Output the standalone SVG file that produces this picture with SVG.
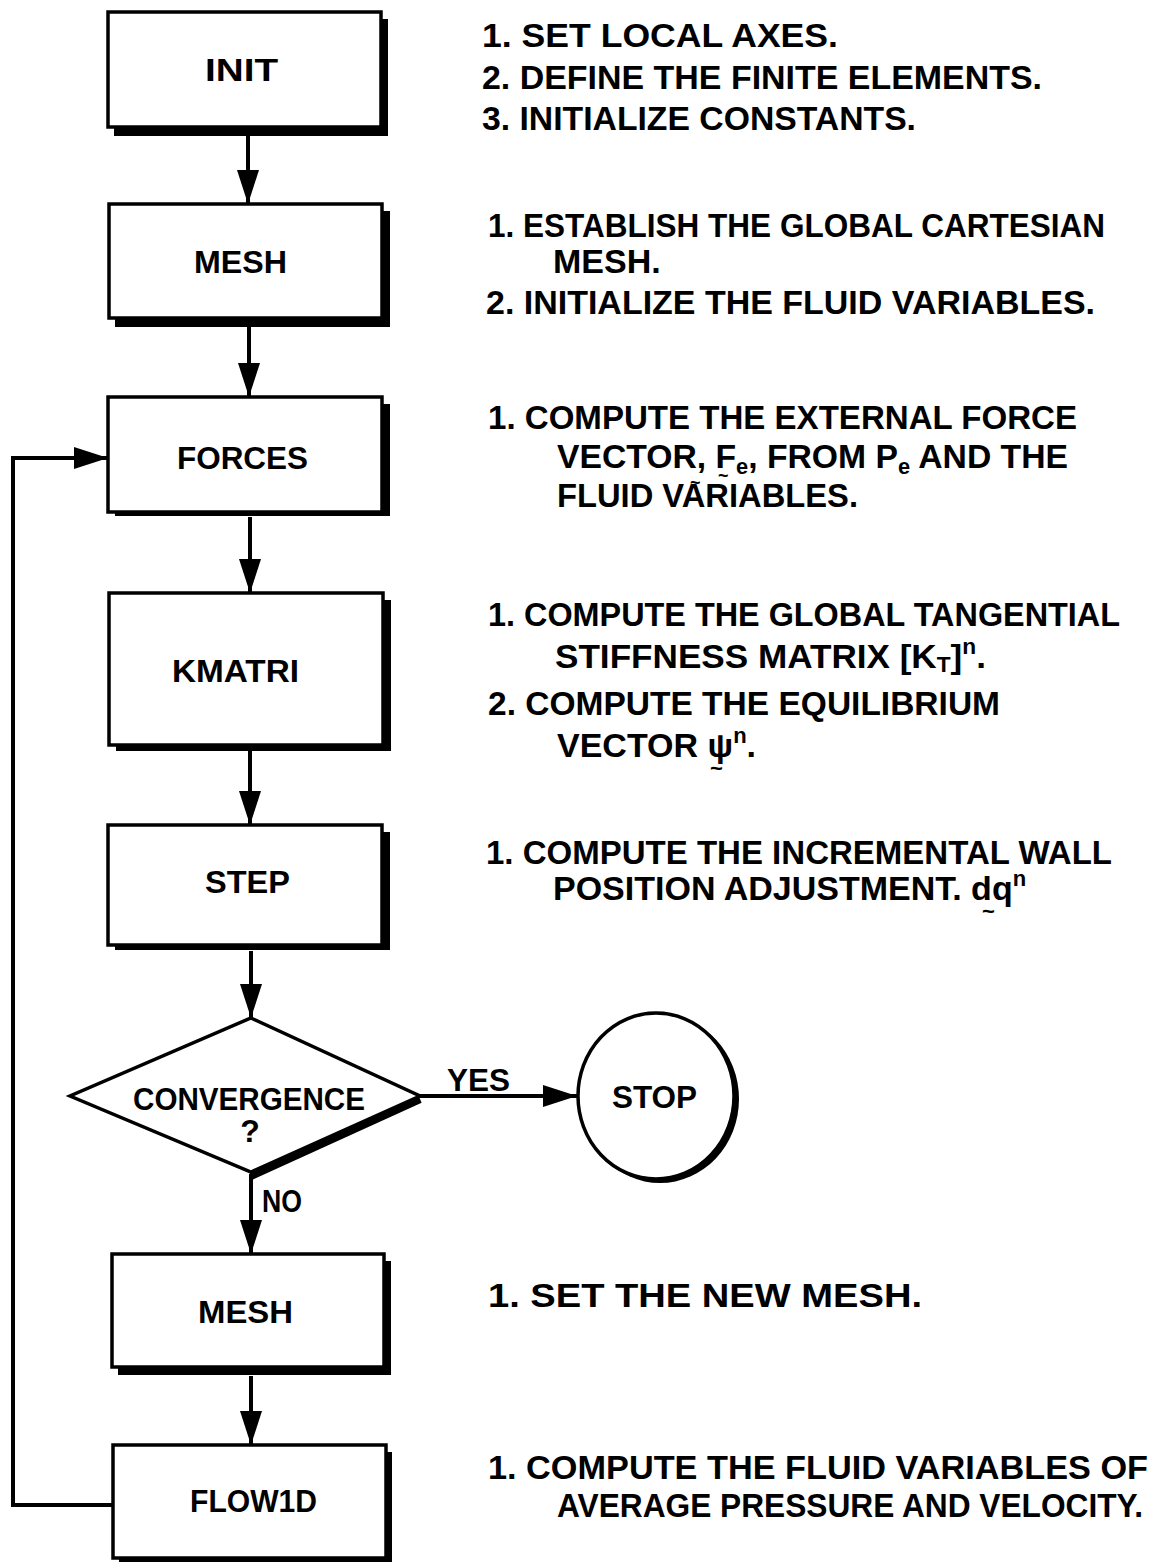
<svg xmlns="http://www.w3.org/2000/svg" width="1157" height="1562" viewBox="0 0 1157 1562">
<style>
.bg{fill:#fff}
.box{fill:#fff;stroke:#000;stroke-width:3.5}
.sh{fill:#000}
.lbl{font-family:"Liberation Sans",Arial,sans-serif;font-weight:bold;font-size:32px;fill:#000}
.desc{font-family:"Liberation Sans",Arial,sans-serif;font-weight:bold;font-size:34px;fill:#000}
.sm{font-family:"Liberation Sans",Arial,sans-serif;font-weight:bold;font-size:22px;fill:#000}
.tl{font-family:"Liberation Sans",Arial,sans-serif;font-weight:bold;font-size:18px;fill:#000}
.conn{stroke:#000;stroke-width:4;fill:none}
</style>
<defs>
<marker id="arr" viewBox="0 0 34 22" refX="34" refY="11" markerWidth="34" markerHeight="22" markerUnits="userSpaceOnUse" orient="auto">
<path d="M0,0 L34,11 L0,22 z" fill="#000"/>
</marker>
</defs>
<rect class="bg" x="0" y="0" width="1157" height="1562"/>

<g id="connectors">
<line class="conn" x1="248" y1="136" x2="248" y2="204" marker-end="url(#arr)"/>
<line class="conn" x1="249" y1="327" x2="249" y2="397" marker-end="url(#arr)"/>
<line class="conn" x1="250" y1="517" x2="250" y2="593" marker-end="url(#arr)"/>
<line class="conn" x1="250" y1="751" x2="250" y2="825" marker-end="url(#arr)"/>
<line class="conn" x1="251" y1="951" x2="251" y2="1018" marker-end="url(#arr)"/>
<line class="conn" x1="420" y1="1096" x2="577" y2="1096" marker-end="url(#arr)"/>
<line class="conn" x1="251" y1="1174" x2="251" y2="1254" marker-end="url(#arr)"/>
<line class="conn" x1="251" y1="1376" x2="251" y2="1445" marker-end="url(#arr)"/>
<polyline class="conn" points="113,1505 13,1505 13,458 108,458" marker-end="url(#arr)"/>
<text class="lbl" x="447" y="1091" textLength="63" lengthAdjust="spacingAndGlyphs">YES</text>
<text class="lbl" x="262" y="1212" textLength="40" lengthAdjust="spacingAndGlyphs">NO</text>
</g>

<g id="init">
<rect class="sh" x="114" y="19" width="274" height="117"/>
<rect class="box" x="108" y="12" width="273" height="115"/>
<text class="lbl" x="205" y="81" textLength="73" lengthAdjust="spacingAndGlyphs">INIT</text>
</g>
<g id="mesh1">
<rect class="sh" x="115" y="211" width="275" height="116"/>
<rect class="box" x="109" y="204" width="273" height="114"/>
<text class="lbl" x="194" y="273" textLength="93" lengthAdjust="spacingAndGlyphs">MESH</text>
</g>
<g id="forces">
<rect class="sh" x="115" y="404" width="275" height="112"/>
<rect class="box" x="108" y="397" width="274" height="115"/>
<text class="lbl" x="177" y="469" textLength="131" lengthAdjust="spacingAndGlyphs">FORCES</text>
</g>
<g id="kmatri">
<rect class="sh" x="116" y="600" width="275" height="151"/>
<rect class="box" x="109" y="593" width="274" height="152"/>
<text class="lbl" x="172" y="682" textLength="127" lengthAdjust="spacingAndGlyphs">KMATRI</text>
</g>
<g id="step">
<rect class="sh" x="115" y="832" width="275" height="118"/>
<rect class="box" x="108" y="825" width="274" height="120"/>
<text class="lbl" x="205" y="893" textLength="85" lengthAdjust="spacingAndGlyphs">STEP</text>
</g>
<g id="convergence">
<line x1="420" y1="1099" x2="251" y2="1176" stroke="#000" stroke-width="8"/>
<polygon points="251,1018 420,1096 251,1172 70,1096" fill="#fff" stroke="#000" stroke-width="3.5" stroke-linejoin="miter"/>
<text class="lbl" x="133" y="1110" textLength="232" lengthAdjust="spacingAndGlyphs">CONVERGENCE</text>
<text class="lbl" x="250" y="1142" text-anchor="middle">?</text>
</g>
<g id="stop">
<ellipse cx="660" cy="1099" rx="79" ry="84" fill="#000"/>
<ellipse cx="656" cy="1096" rx="78" ry="83" fill="#fff" stroke="#000" stroke-width="3.5"/>
<text class="lbl" x="612" y="1108" textLength="85" lengthAdjust="spacingAndGlyphs">STOP</text>
</g>
<g id="mesh2">
<rect class="sh" x="118" y="1261" width="273" height="114"/>
<rect class="box" x="112" y="1254" width="272" height="113"/>
<text class="lbl" x="198" y="1323" textLength="95" lengthAdjust="spacingAndGlyphs">MESH</text>
</g>
<g id="flow1d">
<rect class="sh" x="119" y="1452" width="273" height="112"/>
<rect class="box" x="113" y="1445" width="273" height="113"/>
<text class="lbl" x="190" y="1512" textLength="127" lengthAdjust="spacingAndGlyphs">FLOW1D</text>
</g>

<g id="notes">
<text class="desc" x="482" y="47" textLength="356" lengthAdjust="spacingAndGlyphs">1. SET LOCAL AXES.</text>
<text class="desc" x="482" y="89" textLength="560" lengthAdjust="spacingAndGlyphs">2. DEFINE THE FINITE ELEMENTS.</text>
<text class="desc" x="482" y="130" textLength="434" lengthAdjust="spacingAndGlyphs">3. INITIALIZE CONSTANTS.</text>

<text class="desc" x="488" y="237" textLength="617" lengthAdjust="spacingAndGlyphs">1. ESTABLISH THE GLOBAL CARTESIAN</text>
<text class="desc" x="553" y="273">MESH.</text>
<text class="desc" x="486" y="314" textLength="609" lengthAdjust="spacingAndGlyphs">2. INITIALIZE THE FLUID VARIABLES.</text>

<text class="desc" x="488" y="429" textLength="589" lengthAdjust="spacingAndGlyphs">1. COMPUTE THE EXTERNAL FORCE</text>
<text class="desc" x="557" y="468" textLength="511" lengthAdjust="spacingAndGlyphs">VECTOR, F<tspan class="sm" dy="6">e</tspan><tspan dy="-6">, FROM P</tspan><tspan class="sm" dy="6">e</tspan><tspan dy="-6"> AND THE</tspan></text>
<text class="tl" x="718" y="482">~</text>
<text class="desc" x="557" y="507" textLength="301" lengthAdjust="spacingAndGlyphs">FLUID VARIABLES.</text>
<text class="tl" x="690" y="489">~</text>

<text class="desc" x="488" y="626" textLength="632" lengthAdjust="spacingAndGlyphs">1. COMPUTE THE GLOBAL TANGENTIAL</text>
<text class="desc" x="555" y="668" textLength="431" lengthAdjust="spacingAndGlyphs">STIFFNESS MATRIX [K<tspan class="sm" dy="4">T</tspan><tspan dy="-4">]</tspan><tspan class="sm" dy="-14">n</tspan><tspan dy="14">.</tspan></text>
<text class="desc" x="488" y="715" textLength="512" lengthAdjust="spacingAndGlyphs">2. COMPUTE THE EQUILIBRIUM</text>
<text class="desc" x="557" y="757">VECTOR ψ<tspan class="sm" dy="-14">n</tspan><tspan dy="14">.</tspan></text>
<text class="sm" x="710" y="776">~</text>

<text class="desc" x="486" y="864" textLength="626" lengthAdjust="spacingAndGlyphs">1. COMPUTE THE INCREMENTAL WALL</text>
<text class="desc" x="553" y="900">POSITION ADJUSTMENT.  dq<tspan class="sm" dy="-14">n</tspan></text>
<text class="sm" x="982" y="919">~</text>

<text class="desc" x="488" y="1307" textLength="434" lengthAdjust="spacingAndGlyphs">1. SET THE NEW MESH.</text>

<text class="desc" x="488" y="1479" textLength="660" lengthAdjust="spacingAndGlyphs">1. COMPUTE THE FLUID VARIABLES OF</text>
<text class="desc" x="557" y="1517" textLength="586" lengthAdjust="spacingAndGlyphs">AVERAGE PRESSURE AND VELOCITY.</text>
</g>
</svg>
